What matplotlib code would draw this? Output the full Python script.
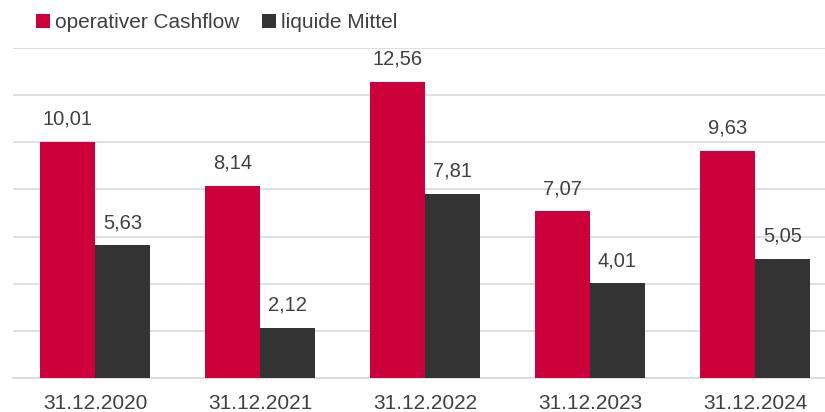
import matplotlib
matplotlib.use("Agg")
import matplotlib.pyplot as plt
import numpy as np

categories = ["31.12.2020", "31.12.2021", "31.12.2022", "31.12.2023", "31.12.2024"]
series_names = ["operativer Cashflow", "liquide Mittel"]
cashflow = [10.01, 8.14, 12.56, 7.07, 9.63]
liquide = [5.63, 2.12, 7.81, 4.01, 5.05]
colors = ["#CC003B", "#333333"]

plt.rcParams['font.family'] = ['Liberation Sans', 'DejaVu Sans']
txt = "#404040"

fig = plt.figure(figsize=(8.25, 4.12), dpi=100)
ax = fig.add_axes([12.5 / 825, 34 / 412, 825 / 825, 330 / 412])

x = np.arange(len(categories))
w = 1 / 3
b1 = ax.bar(x - w / 2, cashflow, w, color=colors[0], label=series_names[0], zorder=3)
b2 = ax.bar(x + w / 2, liquide, w, color=colors[1], label=series_names[1], zorder=3)

for bars, vals in ((b1, cashflow), (b2, liquide)):
    for r, v in zip(bars, vals):
        ax.annotate(f"{v:.2f}".replace(".", ","), (r.get_x() + r.get_width() / 2, v),
                    xytext=(0, 9.5), textcoords="offset points", ha="center", va="bottom",
                    fontsize=14.5, color=txt)

ax.set_xlim(-0.5, 4.5)
ax.set_ylim(0, 14)
ax.set_yticks(np.arange(0, 15, 2))
ax.yaxis.grid(True, color="#D9D9D9", linewidth=1.2, zorder=0)
ax.set_yticklabels([])
ax.tick_params(axis="y", length=0)
ax.set_xticks(x)
ax.set_xticklabels(categories, fontsize=15, color=txt)
ax.tick_params(axis="x", length=0, pad=11.5)
for s in ["top", "right", "left"]:
    ax.spines[s].set_visible(False)
ax.spines["bottom"].set_color("#D9D9D9")
ax.spines["bottom"].set_linewidth(1.2)

fig.legend(handles=[b1, b2], loc="center left", bbox_to_anchor=(28 / 825, 1 - 22.5 / 412),
           ncol=2, frameon=False, fontsize=15, handlelength=0.65, handleheight=0.65,
           handletextpad=0.25, columnspacing=1.1, labelcolor=txt, borderaxespad=0)

fig.savefig("out.png", dpi=100)
